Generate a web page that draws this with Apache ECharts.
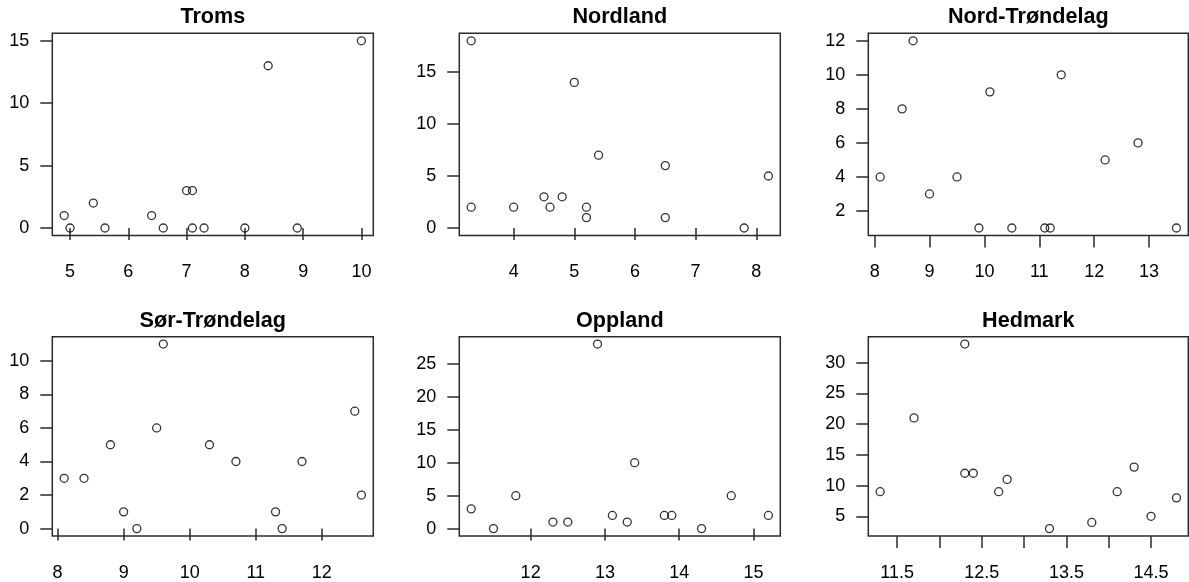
<!DOCTYPE html>
<html><head><meta charset="utf-8">
<script src="https://cdn.jsdelivr.net/npm/echarts@6/dist/echarts.min.js"></script>
<style>html,body{margin:0;padding:0;background:#fff}#c{width:1189px;height:582px}</style>
</head><body><div id="c"></div>
<script>
// ---- data ----
const titles = ['Troms', 'Nordland', 'Nord-Trøndelag', 'Sør-Trøndelag', 'Oppland', 'Hedmark'];

const tromsX = [4.9, 5.0, 5.4, 5.6, 6.4, 6.6, 7.0, 7.1, 7.1, 7.3, 8.0, 8.4, 8.9, 10.0];
const tromsY = [1, 0, 2, 0, 1, 0, 3, 3, 0, 0, 0, 13, 0, 15];

const nordlandX = [3.3, 3.3, 4.0, 4.5, 4.6, 4.8, 5.0, 5.2, 5.2, 5.4, 6.5, 6.5, 7.8, 8.2];
const nordlandY = [18, 2, 2, 3, 2, 3, 14, 2, 1, 7, 6, 1, 0, 5];

const nordTrondelagX = [8.1, 8.5, 8.7, 9.0, 9.5, 9.9, 10.1, 10.5, 11.1, 11.2, 11.4, 12.2, 12.8, 13.5];
const nordTrondelagY = [4, 8, 12, 3, 4, 1, 9, 1, 1, 1, 10, 5, 6, 1];

const sorTrondelagX = [8.1, 8.4, 8.8, 9.0, 9.2, 9.5, 9.6, 10.3, 10.7, 11.3, 11.4, 11.7, 12.5, 12.6];
const sorTrondelagY = [3, 3, 5, 1, 0, 6, 11, 5, 4, 1, 0, 4, 7, 2];

const opplandX = [11.2, 11.5, 11.8, 12.3, 12.5, 12.9, 13.1, 13.3, 13.4, 13.8, 13.9, 14.3, 14.7, 15.2];
const opplandY = [3, 0, 5, 1, 1, 28, 2, 1, 10, 2, 2, 0, 5, 2];

const hedmarkX = [11.3, 11.7, 12.3, 12.3, 12.4, 12.7, 12.8, 13.3, 13.8, 14.1, 14.3, 14.5, 14.8];
const hedmarkY = [9, 21, 33, 12, 12, 9, 11, 3, 4, 9, 13, 5, 8];

const xTicks = [[5, 6, 7, 8, 9, 10], [4, 5, 6, 7, 8], [8, 9, 10, 11, 12, 13], [8, 9, 10, 11, 12], [12, 13, 14, 15], [11.5, 12, 12.5, 13, 13.5, 14, 14.5]];
const xLabels = [[5, 6, 7, 8, 9, 10], [4, 5, 6, 7, 8], [8, 9, 10, 11, 12, 13], [8, 9, 10, 11, 12], [12, 13, 14, 15], [11.5, 12.5, 13.5, 14.5]];
const yTicks = [[0, 5, 10, 15], [0, 5, 10, 15], [2, 4, 6, 8, 10, 12], [0, 2, 4, 6, 8, 10], [0, 5, 10, 15, 20, 25], [5, 10, 15, 20, 25, 30]];

// ---- layout ----
const panels = [
  [tromsX, tromsY], [nordlandX, nordlandY], [nordTrondelagX, nordTrondelagY],
  [sorTrondelagX, sorTrondelagY], [opplandX, opplandY], [hedmarkX, hedmarkY]
];
const lefts = [52.3, 459.3, 868.3];
const widths = [321, 321, 320];
const tops = [33.3, 336.7];
const heights = [202.2, 200.6];

function rExt(arr) {
  const mn = Math.min(...arr), mx = Math.max(...arr);
  const d = (mx - mn) * 0.04;
  return [mn - d, mx + d];
}

const FONT = 'Liberation Sans, Arial, Helvetica, sans-serif';
const grid = [], xAxis = [], yAxis = [], series = [], title = [];
panels.forEach((p, i) => {
  const col = i % 3, row = Math.floor(i / 3);
  grid.push({
    left: lefts[col], top: tops[row], width: widths[col], height: heights[row],
    show: true, borderColor: '#2b2b2b', borderWidth: 1.5, backgroundColor: 'transparent'
  });
  const xr = rExt(p[0]), yr = rExt(p[1]);
  xAxis.push({
    type: 'value', gridIndex: i, min: xr[0], max: xr[1],
    axisLine: { show: false },
    splitLine: { show: false },
    axisTick: { show: true, length: 12, customValues: xTicks[i], lineStyle: { color: '#2b2b2b', width: 1.5 } },
    axisLabel: { show: true, margin: 28, customValues: xLabels[i], color: '#000', fontSize: 18, fontFamily: FONT,
      formatter: v => String(v), hideOverlap: false }
  });
  yAxis.push({
    type: 'value', gridIndex: i, min: yr[0], max: yr[1],
    axisLine: { show: false },
    splitLine: { show: false },
    axisTick: { show: true, length: 12, customValues: yTicks[i], lineStyle: { color: '#2b2b2b', width: 1.5 } },
    axisLabel: { show: true, margin: 23, customValues: yTicks[i], color: '#000', fontSize: 18, fontFamily: FONT,
      padding: [5, 0, 0, 0],
      formatter: v => String(v), hideOverlap: false }
  });
  series.push({
    type: 'scatter', xAxisIndex: i, yAxisIndex: i,
    data: p[0].map((x, k) => [x, p[1][k]]),
    symbol: 'circle', symbolSize: 8,
    itemStyle: { color: 'rgba(0,0,0,0)', borderColor: '#000', borderWidth: 1.3 },
    emphasis: { disabled: true }, silent: true
  });
  title.push({
    text: titles[i], left: lefts[col] + widths[col] / 2, top: tops[row] - 27, textAlign: 'center',
    padding: 0,
    textStyle: { fontSize: 21.6, fontWeight: 'bold', color: '#000', fontFamily: FONT }
  });
});

const chart = echarts.init(document.getElementById('c'));
chart.setOption({ animation: false, backgroundColor: '#fff', title, grid, xAxis, yAxis, series });
</script>
</body></html>
